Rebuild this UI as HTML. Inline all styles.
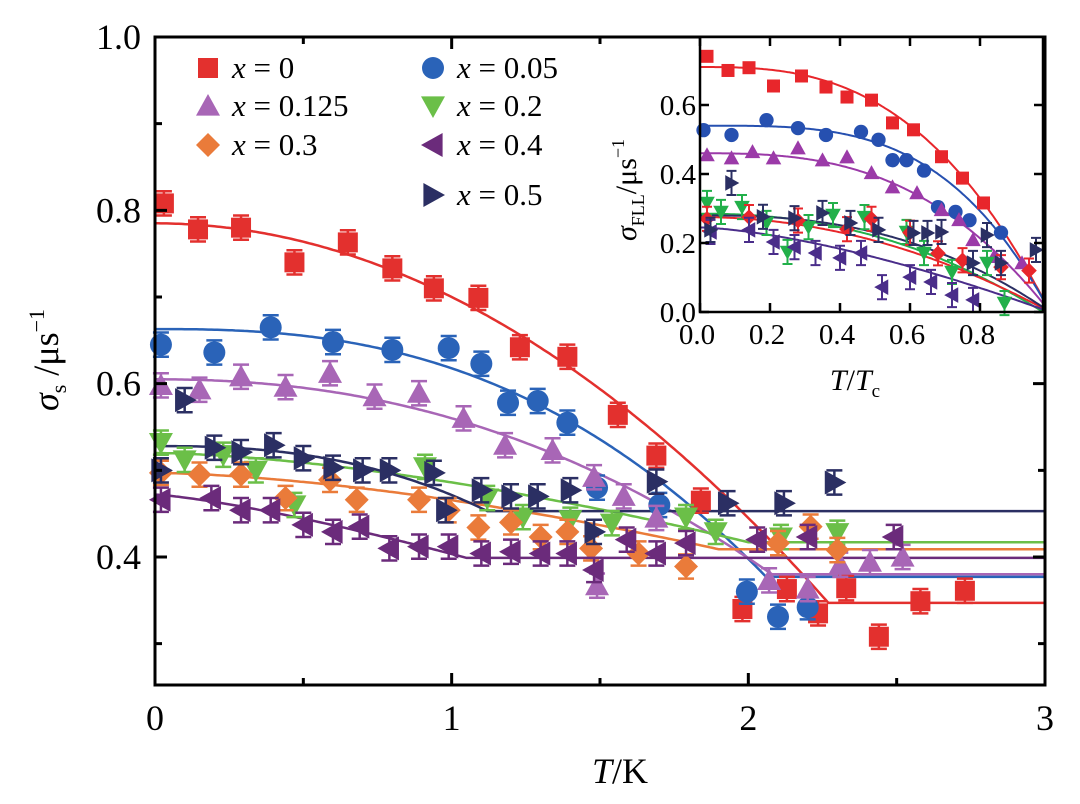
<!DOCTYPE html>
<html><head><meta charset="utf-8"><style>
html,body{margin:0;padding:0;background:#fff;}
svg{display:block;font-family:"Liberation Serif",serif;}
</style></head><body>
<svg id="chart" width="1080" height="804" viewBox="0 0 1080 804" xmlns="http://www.w3.org/2000/svg">
<g id="main"></g>
<g id="inset"></g>
</svg>
<script>
// ---------- Main chart data ----------
const seriesNames = ["x = 0","x = 0.05","x = 0.125","x = 0.2","x = 0.3","x = 0.4","x = 0.5"];
const seriesColors = ["#e3302e","#2a63b8","#a866b6","#6bbf48","#ea7b3a","#6b2b7b","#2b2f63"];
const seriesShapes = ["square","circle","up","down","diamond","left","right"];
const xTicks = [0,1,2,3];
const yTicks = [0.4,0.6,0.8,1.0];
const yMinor = [0.3,0.5,0.7,0.9];

const t0 = [0.03,0.145,0.29,0.47,0.65,0.80,0.94,1.09,1.23,1.39,1.56,1.69,1.84,1.98,2.13,2.235,2.33,2.44,2.58,2.73];
const s0 = [0.808,0.778,0.780,0.740,0.763,0.733,0.710,0.699,0.642,0.631,0.564,0.517,0.465,0.340,0.363,0.335,0.364,0.308,0.349,0.361];
const t1 = [0.02,0.20,0.39,0.60,0.80,0.99,1.10,1.19,1.29,1.39,1.49,1.70,1.995,2.10,2.20];
const s1 = [0.645,0.636,0.665,0.648,0.639,0.641,0.623,0.578,0.580,0.555,0.480,0.460,0.360,0.331,0.342];
const t2 = [0.02,0.15,0.29,0.44,0.59,0.74,0.89,1.04,1.18,1.34,1.48,1.58,1.69,1.49,2.07,2.20,2.31,2.41,2.52];
const s2 = [0.598,0.593,0.608,0.596,0.612,0.585,0.589,0.560,0.529,0.523,0.492,0.470,0.445,0.367,0.373,0.363,0.391,0.394,0.400];
const t3 = [0.02,0.10,0.23,0.34,0.47,0.91,1.12,1.24,1.40,1.54,1.79,1.89,2.11,2.30];
const s3 = [0.532,0.512,0.518,0.500,0.460,0.504,0.468,0.446,0.443,0.439,0.446,0.429,0.423,0.428];
const t4 = [0.02,0.15,0.29,0.44,0.59,0.68,0.89,0.99,1.09,1.20,1.30,1.39,1.47,1.63,1.79,2.10,2.21,2.30];
const s4 = [0.497,0.495,0.495,0.468,0.489,0.466,0.466,0.454,0.434,0.440,0.423,0.429,0.410,0.404,0.389,0.416,0.435,0.408];
const t5 = [0.02,0.19,0.29,0.39,0.50,0.60,0.69,0.79,0.89,0.99,1.10,1.20,1.30,1.39,1.48,1.59,1.69,1.79,2.03,2.20,2.49];
const s5 = [0.466,0.468,0.454,0.454,0.437,0.429,0.435,0.410,0.412,0.412,0.404,0.406,0.404,0.404,0.385,0.420,0.404,0.416,0.420,0.423,0.423];
const t6 = [0.02,0.10,0.20,0.29,0.40,0.50,0.60,0.70,0.79,0.94,0.98,1.10,1.20,1.29,1.40,1.48,1.69,1.93,2.12,2.29];
const s6 = [0.500,0.581,0.526,0.521,0.529,0.514,0.503,0.500,0.500,0.497,0.454,0.477,0.470,0.470,0.477,0.429,0.487,0.462,0.462,0.486];
const mainT = [t0,t1,t2,t3,t4,t5,t6];
const mainS = [s0,s1,s2,s3,s4,s5,s6];
// fit parameters: low-T value, high-T base, Tc, exponent
const fitTop = [0.785,0.663,0.605,0.520,0.497,0.472,0.528];
const fitBase = [0.347,0.377,0.380,0.417,0.409,0.399,0.453];
const fitTc = [2.27,2.06,2.08,2.0,1.9,1.05,1.12];
const fitP = [2.0,2.55,2.2,1.6,1.6,1.3,2.5];

// ---------- Inset data ----------
const insXTicks = [0.0,0.2,0.4,0.6,0.8];
const insYTicks = [0.0,0.2,0.4,0.6];
const it0 = [0.02,0.08,0.14,0.21,0.29,0.36,0.42,0.49,0.55,0.61,0.69,0.75,0.81];
const is0 = [0.741,0.70,0.708,0.655,0.684,0.652,0.623,0.614,0.548,0.528,0.45,0.388,0.316];
const it1 = [0.01,0.09,0.19,0.28,0.36,0.46,0.51,0.55,0.59,0.64,0.68,0.73,0.77,0.86];
const is1 = [0.527,0.513,0.556,0.533,0.513,0.522,0.499,0.44,0.44,0.41,0.304,0.29,0.266,0.23];
const it2 = [0.02,0.09,0.15,0.21,0.28,0.35,0.42,0.49,0.55,0.62,0.69,0.74,0.78,0.84,0.92];
const is2 = [0.455,0.446,0.464,0.446,0.475,0.44,0.449,0.403,0.362,0.345,0.296,0.267,0.209,0.16,0.142];
const it3 = [0.02,0.06,0.12,0.19,0.25,0.31,0.38,0.47,0.59,0.64,0.72,0.82,0.87];
const is3 = [0.316,0.29,0.304,0.258,0.174,0.246,0.281,0.275,0.232,0.171,0.116,0.142,0.026];
const it4 = [0.02,0.14,0.28,0.42,0.49,0.60,0.68,0.75,0.86,0.94];
const is4 = [0.27,0.275,0.265,0.24,0.27,0.23,0.17,0.15,0.13,0.12];
const it5 = [0.03,0.14,0.21,0.27,0.33,0.40,0.46,0.52,0.60,0.66,0.72,0.78];
const is5 = [0.232,0.238,0.203,0.188,0.171,0.157,0.171,0.072,0.101,0.087,0.049,0.035];
const it6 = [0.03,0.09,0.18,0.27,0.35,0.43,0.51,0.61,0.65,0.69,0.78,0.82,0.86,0.96];
const is6 = [0.238,0.374,0.276,0.272,0.287,0.258,0.238,0.229,0.229,0.232,0.142,0.223,0.142,0.18];
const insT = [it0,it1,it2,it3,it4,it5,it6];
const insS = [is0,is1,is2,is3,is4,is5,is6];
const insTop = [0.71,0.54,0.46,0.285,0.275,0.245,0.28];
const insTc = [1.0,1.0,1.0,0.98,1.0,1.0,1.0];
const insP = [2.8,3.5,2.8,2.2,2.0,1.5,2.5];

const NS = "http://www.w3.org/2000/svg";
function mk(parent, tag, attrs, text){
  const e = document.createElementNS(NS, tag);
  for (const k in attrs) e.setAttribute(k, attrs[k]);
  if (text !== undefined) e.textContent = text;
  parent.appendChild(e);
  return e;
}
function marker(g, shape, cx, cy, r, color){
  let e;
  if (shape === "square") e = mk(g,"rect",{x:cx-r,y:cy-r,width:2*r,height:2*r,fill:color});
  else if (shape === "circle") e = mk(g,"circle",{cx:cx,cy:cy,r:r*1.1,fill:color});
  else {
    let pts;
    const a = r*1.2;
    if (shape==="up") pts=[[cx,cy-a],[cx+a,cy+a*0.8],[cx-a,cy+a*0.8]];
    if (shape==="down") pts=[[cx,cy+a],[cx+a,cy-a*0.8],[cx-a,cy-a*0.8]];
    if (shape==="left") pts=[[cx-a,cy],[cx+a*0.8,cy-a],[cx+a*0.8,cy+a]];
    if (shape==="right") pts=[[cx+a,cy],[cx-a*0.8,cy-a],[cx-a*0.8,cy+a]];
    if (shape==="diamond") pts=[[cx,cy-a],[cx+a,cy],[cx,cy+a],[cx-a,cy]];
    e = mk(g,"polygon",{points:pts.map(p=>p.join(",")).join(" "),fill:color});
  }
  return e;
}
function fitVal(T, top, base, tc, p){
  if (T >= tc) return base;
  return base + (top-base)*(1-Math.pow(T/tc, p));
}

// ---------- Main plot ----------
const M = {l:155, r:1045, t:37, b:685, xmin:0, xmax:3, ymin:0.2523, ymax:1.0};
const X = v => M.l + (v-M.xmin)/(M.xmax-M.xmin)*(M.r-M.l);
const Y = v => M.b - (v-M.ymin)/(M.ymax-M.ymin)*(M.b-M.t);
const main = document.getElementById("main");

const fitsG = mk(main,"g",{});


for (let i=0;i<7;i++){
  let d="";
  for (let k=0;k<=300;k++){
    const T = M.xmax*k/300;
    d += (k?"L":"M")+X(T).toFixed(1)+","+Y(fitVal(T,fitTop[i],fitBase[i],fitTc[i],fitP[i])).toFixed(1);
  }
  const p = mk(fitsG,"path",{d:d,fill:"none",stroke:seriesColors[i],"stroke-width":2.5});
  
  
}
for (let i=0;i<7;i++){
  const g = mk(main,"g",{});
  
  
  for (let k=0;k<mainT[i].length;k++){
    const cx = X(mainT[i][k]), cy = Y(mainS[i][k]);
    const e1 = Y(mainS[i][k]+0.014), e2 = Y(mainS[i][k]-0.014);
    mk(g,"path",{d:`M${cx},${e1}V${e2}M${cx-8},${e1}H${cx+8}M${cx-8},${e2}H${cx+8}`,stroke:seriesColors[i],"stroke-width":2.5,fill:"none"});
    const m = marker(g, seriesShapes[i], cx, cy, 10, seriesColors[i]);
    
    
  }
}
const ax = mk(main,"g",{});


mk(ax,"rect",{x:M.l,y:M.t,width:M.r-M.l,height:M.b-M.t,fill:"none",stroke:"#000","stroke-width":3});
xTicks.forEach(v=>{
  mk(ax,"path",{d:`M${X(v)},${M.b}v-12M${X(v)},${M.t}v12`,stroke:"#000","stroke-width":3});
  const t = mk(ax,"text",{x:X(v),y:730,"font-size":36,"text-anchor":"middle"},String(v));
  
  
});
for (let v=0.5; v<3; v+=1){
  mk(ax,"path",{d:`M${X(v)},${M.b}v-7M${X(v)},${M.t}v7`,stroke:"#000","stroke-width":3});
}
yTicks.forEach(v=>{
  mk(ax,"path",{d:`M${M.l},${Y(v)}h12M${M.r},${Y(v)}h-12`,stroke:"#000","stroke-width":3});
  const t = mk(ax,"text",{x:141,y:Y(v)+12,"font-size":36,"text-anchor":"end"},v.toFixed(1));
  
  
});
yMinor.forEach(v=>{
  mk(ax,"path",{d:`M${M.l},${Y(v)}h7M${M.r},${Y(v)}h-7`,stroke:"#000","stroke-width":3});
});
const xt = mk(main,"text",{x:620,y:783,"font-size":36,"text-anchor":"middle"});


xt.innerHTML = '<tspan font-style="italic">T</tspan>/K';
const yt = mk(main,"text",{transform:"translate(58,360) rotate(-90)","font-size":36,"text-anchor":"middle"});


yt.innerHTML = '<tspan font-style="italic">σ</tspan><tspan font-size="22" dy="8">s</tspan><tspan dy="-8"> /μs</tspan><tspan font-size="22" dy="-14">−1</tspan>';

const leg = mk(main,"g",{});


const legPos = [[208,68],[433,68],[208,106],[433,106],[208,145],[433,145],[433,195]];
for (let i=0;i<7;i++){
  const [lx,ly] = legPos[i];
  const eg = mk(leg,"g",{});
  
  
  marker(eg, seriesShapes[i], lx, ly, 10, seriesColors[i]);
  const t = mk(eg,"text",{x:lx+24,y:ly+10,"font-size":31});
  t.innerHTML = '<tspan font-style="italic">x</tspan>'+seriesNames[i].slice(1);
}

// ---------- Inset ----------
const I = {l:700, r:1043, t:37, b:312, xmin:0, xmax:0.98, ymin:0, ymax:0.797};
const IX = v => I.l + (v-I.xmin)/(I.xmax-I.xmin)*(I.r-I.l);
const IY = v => I.b - (v-I.ymin)/(I.ymax-I.ymin)*(I.b-I.t);
const inset = document.getElementById("inset");
mk(inset,"rect",{x:I.l,y:I.t,width:I.r-I.l,height:I.b-I.t,fill:"#fff",stroke:"none"});
const insColors = ["#e8262b","#2650b0","#9b3aa8","#22b04a","#e8262b","#4a2d8a","#2b2f63"];
for (let i=0;i<7;i++){
  let d="";
  for (let k=0;k<=200;k++){
    const T = I.xmax*k/200;
    d += (k?"L":"M")+IX(T).toFixed(1)+","+IY(fitVal(T,insTop[i],0,insTc[i],insP[i])).toFixed(1);
  }
  const p = mk(inset,"path",{d:d,fill:"none",stroke:insColors[i],"stroke-width":2});
  
  
}
for (let i=0;i<7;i++){
  const g = mk(inset,"g",{});
  
  
  const big = (i>=3);
  for (let k=0;k<insT[i].length;k++){
    const cx = IX(insT[i][k]), cy = IY(insS[i][k]);
    if (big){
      const e1 = IY(insS[i][k]+0.035), e2 = IY(insS[i][k]-0.035);
      mk(g,"path",{d:`M${cx},${e1}V${e2}M${cx-5},${e1}H${cx+5}M${cx-5},${e2}H${cx+5}`,stroke:insColors[i],"stroke-width":2,fill:"none"});
    }
    marker(g, seriesShapes[i], cx, cy, 6.5, insColors[i]);
  }
}
const iax = mk(inset,"g",{});


mk(iax,"rect",{x:I.l,y:I.t,width:I.r-I.l,height:I.b-I.t,fill:"none",stroke:"#000","stroke-width":2.5});
insXTicks.forEach(v=>{
  mk(iax,"path",{d:`M${IX(v)},${I.b}v-9M${IX(v)},${I.t}v9`,stroke:"#000","stroke-width":2.5});
  const t = mk(iax,"text",{x:IX(v)-3,y:344,"font-size":29,"text-anchor":"middle"},v.toFixed(1));
  
  
});
insYTicks.forEach(v=>{
  mk(iax,"path",{d:`M${I.l},${IY(v)}h9M${I.r},${IY(v)}h-9`,stroke:"#000","stroke-width":2.5});
  const t = mk(iax,"text",{x:696,y:IY(v)+10,"font-size":29,"text-anchor":"end"},v.toFixed(1));
  
  
});
const ixt = mk(inset,"text",{x:855,y:390,"font-size":30,"text-anchor":"middle"});


ixt.innerHTML = '<tspan font-style="italic">T</tspan>/<tspan font-style="italic">T</tspan><tspan font-size="19" dy="7">c</tspan>';
const iyt = mk(inset,"text",{transform:"translate(636,190) rotate(-90)","font-size":30,"text-anchor":"middle"});


iyt.innerHTML = '<tspan font-style="italic">σ</tspan><tspan font-size="18" dy="8">FLL</tspan><tspan dy="-8">/μs</tspan><tspan font-size="18" dy="-12">−1</tspan>';
</script>
</body></html>
